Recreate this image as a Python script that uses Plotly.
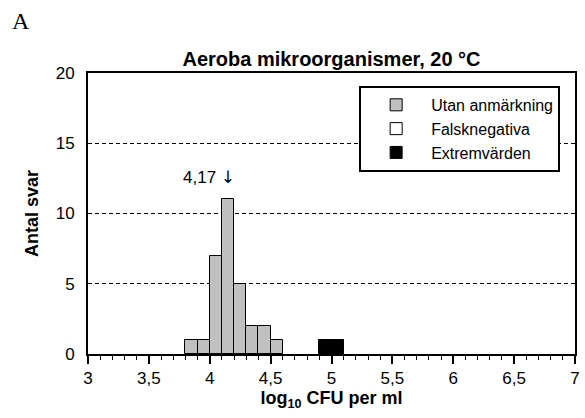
import plotly.graph_objects as go

# Data
bins_utan = [3.8, 3.9, 4.0, 4.1, 4.2, 4.3, 4.4, 4.5]      # left edges of bins (log10 CFU/ml)
counts_utan = [1, 1, 7, 11, 5, 2, 2, 1]
bins_falsk = [4.0]
counts_falsk = [0]
bins_extrem = [4.9, 5.0]
counts_extrem = [1, 1]
bin_width = 0.1
median_value = 4.17
median_text = "4,17"
x_ticks = [3, 3.5, 4, 4.5, 5, 5.5, 6, 6.5, 7]
y_ticks = [0, 5, 10, 15, 20]

FONT = "Liberation Sans, Arial, sans-serif"

fig = go.Figure()
fig.add_trace(go.Bar(x=bins_utan, y=counts_utan, width=bin_width, offset=0,
                     name="Utan anmärkning",
                     marker=dict(color="#c0c0c0", line=dict(color="black", width=1))))
fig.add_trace(go.Bar(x=bins_falsk, y=counts_falsk, width=bin_width, offset=0,
                     name="Falsknegativa",
                     marker=dict(color="white", line=dict(color="black", width=1))))
fig.add_trace(go.Bar(x=bins_extrem, y=counts_extrem, width=bin_width, offset=0,
                     name="Extremvärden",
                     marker=dict(color="black", line=dict(color="black", width=1))))

fig.add_annotation(x=median_value, y=12.6,
                   text=median_text + " <span style='font-family:DejaVu Sans'>\u2193</span>",
                   showarrow=False, xanchor="right", yanchor="middle", xshift=7,
                   font=dict(family=FONT, size=17, color="black"))

fig.add_annotation(xref="paper", yref="paper", x=-0.16, y=1.185, text="A",
                   showarrow=False, xanchor="left", yanchor="middle",
                   font=dict(family="Liberation Serif, Times New Roman, serif", size=24, color="black"))

fig.update_layout(
    width=585, height=418,
    margin=dict(l=88, r=5, t=73, b=64),
    paper_bgcolor="white", plot_bgcolor="white",
    separators=", ",
    barmode="overlay", bargap=0,
    font=dict(family=FONT, size=16, color="black"),
    title=dict(text="<b>Aeroba mikroorganismer, 20 °C</b>", x=0.5, xref="paper", xanchor="center",
               y=1, yref="paper", yanchor="bottom", pad=dict(b=7),
               font=dict(family=FONT, size=20, color="black")),
    showlegend=True,
    legend=dict(x=0.9695, xanchor="right", y=0.954, yanchor="top",
                bgcolor="white", bordercolor="black", borderwidth=2,
                itemwidth=60, traceorder="normal", entrywidth=200,
                font=dict(family=FONT, size=16, color="black")),
    xaxis=dict(range=[3, 7], tickvals=x_ticks, ticks="outside", ticklen=8, tickwidth=1.5,
               tickcolor="black", showline=True, linecolor="black", linewidth=2, mirror=True,
               showgrid=False, zeroline=False,
               minor=dict(dtick=0.1, ticks="outside", ticklen=4, tickwidth=1, tickcolor="black"),
               tickfont=dict(family=FONT, size=17),
               title=dict(text="<b>log<sub>10</sub> CFU per ml</b>", standoff=4,
                          font=dict(family=FONT, size=18))),
    yaxis=dict(range=[0, 20], tickvals=y_ticks, ticks="", showline=True, linecolor="black",
               linewidth=2, mirror=True, showgrid=True, gridcolor="black", gridwidth=1,
               griddash="4px,3px", zeroline=False, ticklabelstandoff=8,
               tickfont=dict(family=FONT, size=17),
               title=dict(text="<b>Antal svar</b>", standoff=12,
                          font=dict(family=FONT, size=18))),
)

fig.write_html("out.html")
